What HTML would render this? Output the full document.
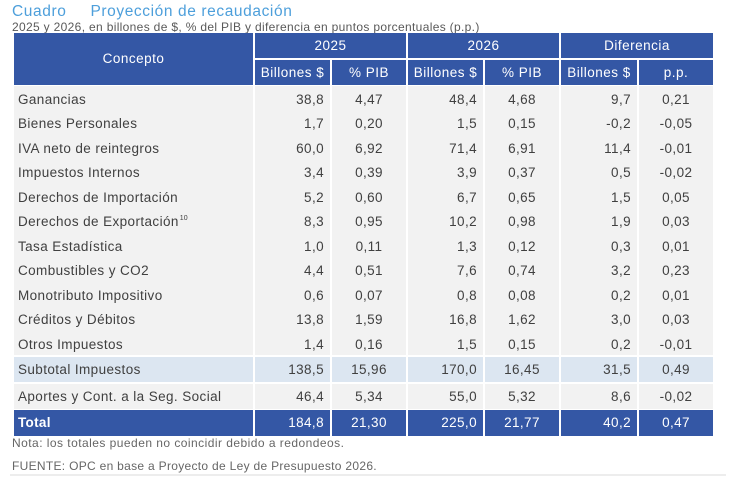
<!DOCTYPE html>
<html><head><meta charset="utf-8"><style>
*{margin:0;padding:0;box-sizing:border-box}
body{width:730px;height:483px;background:#fff;position:relative;overflow:hidden;font-family:"Liberation Sans","DejaVu Sans",sans-serif;color:#404040}
.a{position:absolute}
.hd{background:#3457a5;color:#fff;text-align:center;font-size:13.5px;letter-spacing:0.5px}
.c{position:absolute;font-size:13.5px;letter-spacing:0.4px;white-space:nowrap}
.r{text-align:right;padding-right:6px}
.m{text-align:center}
.l{text-align:left;padding-left:4px}
</style></head><body>
<div class="a" style="left:12px;top:3px;font-size:15.5px;color:#4d9fdb;letter-spacing:0.6px;white-space:nowrap">Cuadro<span style="display:inline-block;width:24px"></span>Proyección de recaudación</div>
<div class="a" style="left:12px;top:20px;font-size:12px;color:#595959;white-space:nowrap;letter-spacing:0.33px">2025 y 2026, en billones de $, % del PIB y diferencia en puntos porcentuales (p.p.)</div>

<!-- header -->
<div class="a hd" style="left:14px;top:33px;width:239px;height:52px;line-height:52px">Concepto</div>
<div class="a hd" style="left:255px;top:33px;width:151px;height:25px;line-height:25px">2025</div>
<div class="a hd" style="left:408px;top:33px;width:151px;height:25px;line-height:25px">2026</div>
<div class="a hd" style="left:561px;top:33px;width:152px;height:25px;line-height:25px">Diferencia</div>
<div class="a hd" style="left:255px;top:60px;width:75px;height:25px;line-height:25px">Billones $</div>
<div class="a hd" style="left:332px;top:60px;width:74px;height:25px;line-height:25px">% PIB</div>
<div class="a hd" style="left:408px;top:60px;width:75px;height:25px;line-height:25px">Billones $</div>
<div class="a hd" style="left:485px;top:60px;width:74px;height:25px;line-height:25px">% PIB</div>
<div class="a hd" style="left:561px;top:60px;width:76px;height:25px;line-height:25px">Billones $</div>
<div class="a hd" style="left:639px;top:60px;width:74px;height:25px;line-height:25px">p.p.</div>

<!-- body backgrounds -->
<div class="a" style="left:14px;top:86px;width:239px;height:269px;background:#f2f2f2"></div>
<div class="a" style="left:255px;top:86px;width:75px;height:269px;background:#f2f2f2"></div>
<div class="a" style="left:332px;top:86px;width:74px;height:269px;background:#f2f2f2"></div>
<div class="a" style="left:408px;top:86px;width:75px;height:269px;background:#f2f2f2"></div>
<div class="a" style="left:485px;top:86px;width:74px;height:269px;background:#f2f2f2"></div>
<div class="a" style="left:561px;top:86px;width:76px;height:269px;background:#f2f2f2"></div>
<div class="a" style="left:639px;top:86px;width:74px;height:269px;background:#f2f2f2"></div>

<!-- subtotal -->
<div class="a" style="left:14px;top:357px;width:239px;height:25px;background:#dce6f1"></div>
<div class="a" style="left:255px;top:357px;width:75px;height:25px;background:#dce6f1"></div>
<div class="a" style="left:332px;top:357px;width:74px;height:25px;background:#dce6f1"></div>
<div class="a" style="left:408px;top:357px;width:75px;height:25px;background:#dce6f1"></div>
<div class="a" style="left:485px;top:357px;width:74px;height:25px;background:#dce6f1"></div>
<div class="a" style="left:561px;top:357px;width:76px;height:25px;background:#dce6f1"></div>
<div class="a" style="left:639px;top:357px;width:74px;height:25px;background:#dce6f1"></div>
<!-- aportes -->
<div class="a" style="left:14px;top:384px;width:239px;height:25px;background:#f2f2f2"></div>
<div class="a" style="left:255px;top:384px;width:75px;height:25px;background:#f2f2f2"></div>
<div class="a" style="left:332px;top:384px;width:74px;height:25px;background:#f2f2f2"></div>
<div class="a" style="left:408px;top:384px;width:75px;height:25px;background:#f2f2f2"></div>
<div class="a" style="left:485px;top:384px;width:74px;height:25px;background:#f2f2f2"></div>
<div class="a" style="left:561px;top:384px;width:76px;height:25px;background:#f2f2f2"></div>
<div class="a" style="left:639px;top:384px;width:74px;height:25px;background:#f2f2f2"></div>
<!-- total -->
<div class="a" style="left:14px;top:410px;width:239px;height:26px;background:#3457a5"></div>
<div class="a" style="left:255px;top:410px;width:75px;height:26px;background:#3457a5"></div>
<div class="a" style="left:332px;top:410px;width:74px;height:26px;background:#3457a5"></div>
<div class="a" style="left:408px;top:410px;width:75px;height:26px;background:#3457a5"></div>
<div class="a" style="left:485px;top:410px;width:74px;height:26px;background:#3457a5"></div>
<div class="a" style="left:561px;top:410px;width:76px;height:26px;background:#3457a5"></div>
<div class="a" style="left:639px;top:410px;width:74px;height:26px;background:#3457a5"></div>

<!-- rows -->
<div class="c l" style="left:14px;top:88px;width:239px;line-height:24.45px">Ganancias<br>Bienes Personales<br>IVA neto de reintegros<br>Impuestos Internos<br>Derechos de Importación<br>Derechos de Exportación<span style="font-size:7px;line-height:0;position:relative;top:-6px;letter-spacing:0;margin-left:1px">10</span><br>Tasa Estadística<br>Combustibles y CO2<br>Monotributo Impositivo<br>Créditos y Débitos<br>Otros Impuestos</div>
<div class="c r" style="left:255px;top:88px;width:75px;line-height:24.45px">38,8<br>1,7<br>60,0<br>3,4<br>5,2<br>8,3<br>1,0<br>4,4<br>0,6<br>13,8<br>1,4</div>
<div class="c m" style="left:332px;top:88px;width:74px;line-height:24.45px">4,47<br>0,20<br>6,92<br>0,39<br>0,60<br>0,95<br>0,11<br>0,51<br>0,07<br>1,59<br>0,16</div>
<div class="c r" style="left:408px;top:88px;width:75px;line-height:24.45px">48,4<br>1,5<br>71,4<br>3,9<br>6,7<br>10,2<br>1,3<br>7,6<br>0,8<br>16,8<br>1,5</div>
<div class="c m" style="left:485px;top:88px;width:74px;line-height:24.45px">4,68<br>0,15<br>6,91<br>0,37<br>0,65<br>0,98<br>0,12<br>0,74<br>0,08<br>1,62<br>0,15</div>
<div class="c r" style="left:561px;top:88px;width:76px;line-height:24.45px">9,7<br>-0,2<br>11,4<br>0,5<br>1,5<br>1,9<br>0,3<br>3,2<br>0,2<br>3,0<br>0,2</div>
<div class="c m" style="left:639px;top:88px;width:74px;line-height:24.45px">0,21<br>-0,05<br>-0,01<br>-0,02<br>0,05<br>0,03<br>0,01<br>0,23<br>0,01<br>0,03<br>-0,01</div>

<!-- subtotal text -->
<div class="c l" style="left:14px;top:357px;width:239px;line-height:25px">Subtotal Impuestos</div>
<div class="c r" style="left:255px;top:357px;width:75px;line-height:25px">138,5</div>
<div class="c m" style="left:332px;top:357px;width:74px;line-height:25px">15,96</div>
<div class="c r" style="left:408px;top:357px;width:75px;line-height:25px">170,0</div>
<div class="c m" style="left:485px;top:357px;width:74px;line-height:25px">16,45</div>
<div class="c r" style="left:561px;top:357px;width:76px;line-height:25px">31,5</div>
<div class="c m" style="left:639px;top:357px;width:74px;line-height:25px">0,49</div>

<div class="c l" style="left:14px;top:384px;width:239px;line-height:25px">Aportes y Cont. a la Seg. Social</div>
<div class="c r" style="left:255px;top:384px;width:75px;line-height:25px">46,4</div>
<div class="c m" style="left:332px;top:384px;width:74px;line-height:25px">5,34</div>
<div class="c r" style="left:408px;top:384px;width:75px;line-height:25px">55,0</div>
<div class="c m" style="left:485px;top:384px;width:74px;line-height:25px">5,32</div>
<div class="c r" style="left:561px;top:384px;width:76px;line-height:25px">8,6</div>
<div class="c m" style="left:639px;top:384px;width:74px;line-height:25px">-0,02</div>

<div class="c l" style="left:14px;top:410px;width:239px;line-height:25px;color:#fff;font-weight:bold;letter-spacing:0.3px">Total</div>
<div class="c r" style="left:255px;top:410px;width:75px;line-height:25px;color:#fff">184,8</div>
<div class="c m" style="left:332px;top:410px;width:74px;line-height:25px;color:#fff">21,30</div>
<div class="c r" style="left:408px;top:410px;width:75px;line-height:25px;color:#fff">225,0</div>
<div class="c m" style="left:485px;top:410px;width:74px;line-height:25px;color:#fff">21,77</div>
<div class="c r" style="left:561px;top:410px;width:76px;line-height:25px;color:#fff">40,2</div>
<div class="c m" style="left:639px;top:410px;width:74px;line-height:25px;color:#fff">0,47</div>

<div class="a" style="left:12px;top:436px;font-size:12px;color:#666;white-space:nowrap;letter-spacing:0.46px">Nota: los totales pueden no coincidir debido a redondeos.</div>
<div class="a" style="left:12px;top:459px;font-size:12px;color:#666;white-space:nowrap;letter-spacing:0.3px">FUENTE: OPC en base a Proyecto de Ley de Presupuesto 2026.</div>
<div class="a" style="left:10px;top:474px;width:716px;height:2px;background:#ededed"></div>
</body></html>
